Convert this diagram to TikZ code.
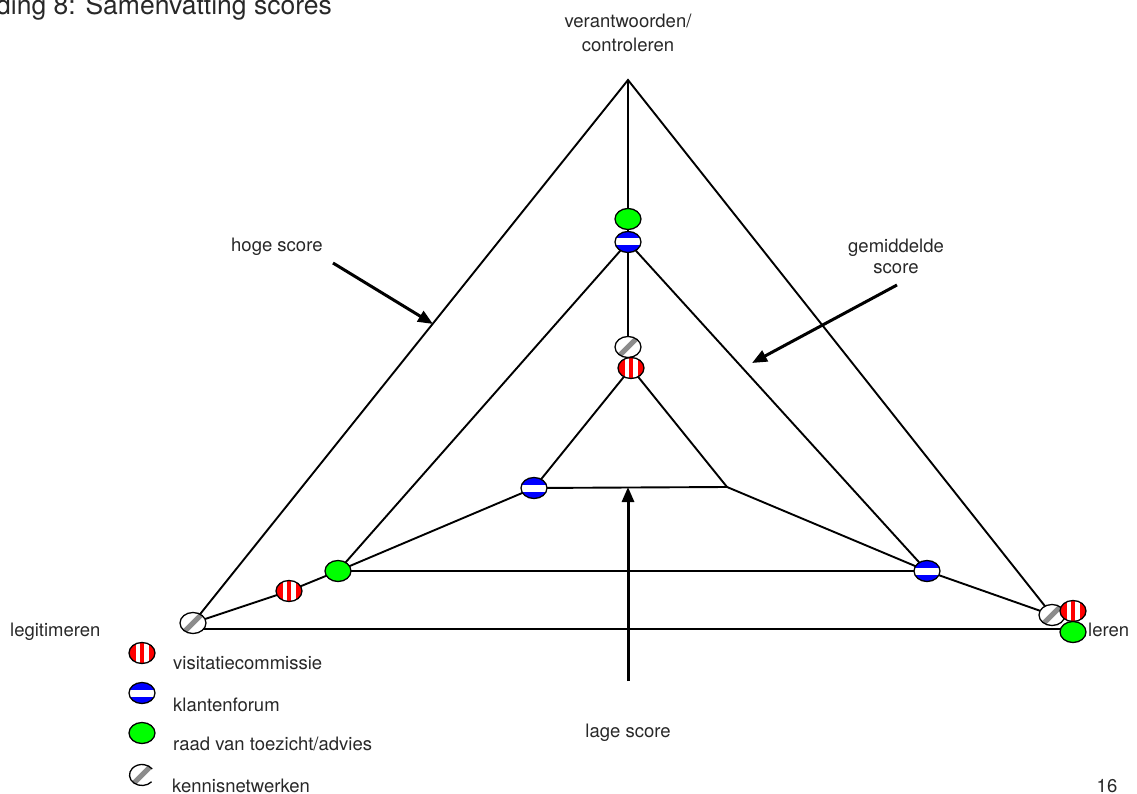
\documentclass[tikz,border=0pt]{standalone}
\usepackage{fontspec}
\setmainfont{TeX Gyre Heros}
\usetikzlibrary{shapes.geometric,arrows.meta,backgrounds}
\definecolor{mkgreen}{RGB}{0,255,0}
\definecolor{mkblue}{RGB}{0,0,255}
\definecolor{mkred}{RGB}{255,0,0}
\definecolor{mkgray}{RGB}{140,140,140}
\definecolor{txt}{RGB}{40,40,40}
\tikzset{
  mk/.style={ellipse, draw=black, line width=1.3pt, minimum width=26pt,
    minimum height=21pt, inner sep=0pt, fill=white},
  visit/.style={mk, path picture={
    \begin{scope}[shift={(path picture bounding box.center)}]
      \fill[mkred] (-14,-12) rectangle (-6.5,12);
      \fill[mkred] (-2.5,-12) rectangle (2,12);
      \fill[mkred] (6.5,-12) rectangle (14,12);
    \end{scope}}},
  klant/.style={mk, path picture={
    \begin{scope}[shift={(path picture bounding box.center)}]
      \fill[mkblue] (-14,-12) rectangle (14,-3.5);
      \fill[mkblue] (-14,3.5) rectangle (14,12);
    \end{scope}}},
  raad/.style={mk, fill=mkgreen},
  kennis/.style={mk, path picture={
    \begin{scope}[shift={(path picture bounding box.center)}]
      \draw[mkgray, line width=5pt] (-9,9) -- (9,-9);
    \end{scope}}},
  edge/.style={draw=black, line width=1.9pt},
  pointer/.style={draw=black, line width=3pt, -{Triangle[length=15pt,width=12pt]}},
  lbl/.style={text=txt, font=\fontsize{18.5}{22}\selectfont, inner sep=0pt},
}
\begin{document}
\begin{tikzpicture}[x=1pt, y=-1pt]
\useasboundingbox (0,0) rectangle (1137,794);

% heading
\node[lbl, anchor=base west, font=\fontsize{26.5}{30}\selectfont] (title) at (-4,15) {ding 8: Samenvatting scores};

% corner labels
\node[lbl, anchor=base] (ax1) at (628,28) {verantwoorden/};
\node[lbl, anchor=base] (ax1b) at (628,52) {controleren};
\node[lbl, anchor=base west] (ax2) at (10,636) {legitimeren};
\node[lbl, anchor=base west] (ax3) at (1088,636) {leren};

% level labels
\node[lbl, anchor=base west] (hoog) at (231,252) {hoge score};
\node[lbl, anchor=base] (gem1) at (896,253) {gemiddelde};
\node[lbl, anchor=base] (gem2) at (896,273) {score};
\node[lbl, anchor=base] (laag) at (628,737) {lage score};
\node[lbl, anchor=base] (page) at (1107,792) {16};

% triangle corners and free line ends
\coordinate (apex) at (628,80);
\coordinate (cI) at (727,487);
\coordinate (baseL) at (203,629);
\coordinate (baseR) at (1066,629);

% score markers
\node[kennis] (kT) at (628,347) {};
\node[kennis] (kL) at (193,623) {};
\node[kennis] (kR) at (1052,615) {};
\node[visit] (vT) at (631,368) {};
\node[visit] (vL) at (289,591) {};
\node[visit] (vR) at (1073,611) {};
\node[raad] (gT) at (628,219) {};
\node[raad] (gL) at (338,571) {};
\node[raad] (gR) at (1073,632) {};
\node[klant] (bT) at (628,242) {};
\node[klant] (bI) at (534,488) {};
\node[klant] (bR) at (927,571) {};

\begin{scope}[on background layer]
  % outer triangle
  \draw[edge] (kL.center) -- (apex) -- (kR.center);
  \draw[edge] (baseL) -- (baseR);
  % vertical axis
  \draw[edge] (apex) -- (kT.center) -- (vT.center);
  % middle triangle
  \draw[edge] (gL.center) -- (bT.center) -- (bR.center);
  \draw[edge] (gL.center) -- (bR.center);
  % inner triangle
  \draw[edge] (bI.center) -- (vT.center) -- (cI) -- (bI.center);
  % spokes to the corners
  \draw[edge] (kL.center) -- (vL.center) -- (gL.center) -- (bI.center);
  \draw[edge] (cI) -- (bR.center) -- (kR.center);
\end{scope}

% pointers
\coordinate (hA) at (333,263);
\coordinate (hB) at (433,324);
\coordinate (mA) at (897,285);
\coordinate (mB) at (752,363);
\coordinate (lA) at (628,681);
\coordinate (lB) at (628,487);
\draw[pointer] (hA) -- (hB);
\draw[pointer] (mA) -- (mB);
\draw[pointer] (lA) -- (lB);

% legend
\node[visit] (lv) at (142,653) {};
\node[lbl, anchor=base west] (lvt) at (173,669) {visitatiecommissie};
\node[klant] (lb) at (142,693) {};
\node[lbl, anchor=base west] (lbt) at (173,711) {klantenforum};
\node[raad] (lg) at (142,733) {};
\node[lbl, anchor=base west] (lgt) at (173,750) {raad van toezicht/advies};
\node[kennis, draw=none] (lk) at (142,775) {};
\draw[line width=1.3pt, shift={(lk.center)}] (40:12.5 and 10.5) arc[start angle=40, end angle=325, x radius=12.5, y radius=10.5];
\node[lbl, anchor=base west] (lkt) at (172,792) {kennisnetwerken};
\end{tikzpicture}
\end{document}
